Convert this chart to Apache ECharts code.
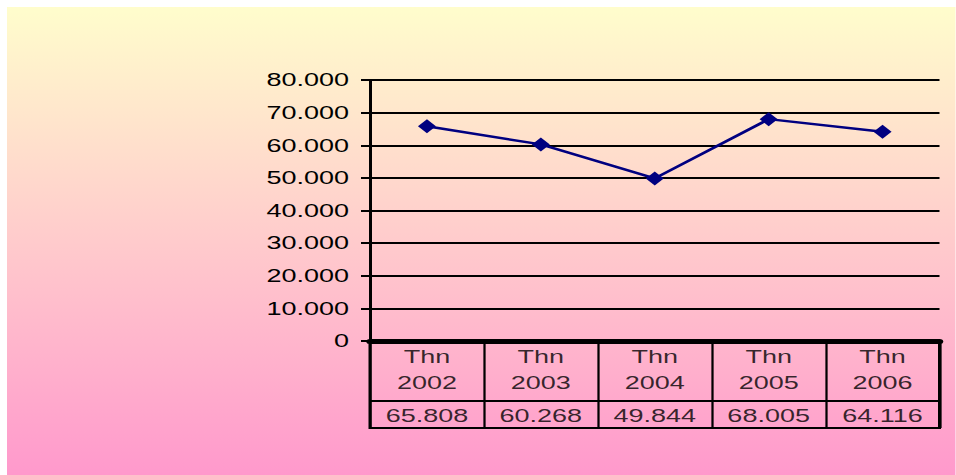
<!DOCTYPE html>
<html>
<head>
<meta charset="utf-8">
<script src="https://cdn.jsdelivr.net/npm/echarts@6/dist/echarts.min.js"></script>
<style>
  html, body { margin: 0; padding: 0; background: #ffffff; overflow: hidden; }
  #wrap { width: 956px; height: 475px; position: relative; overflow: hidden; }
  #main { width: 637.33px; height: 475px; transform: scaleX(1.5); transform-origin: 0 0; }
</style>
</head>
<body>
<div id="wrap"><div id="main"></div></div>
<script>
const categories = ['Thn\n2002', 'Thn\n2003', 'Thn\n2004', 'Thn\n2005', 'Thn\n2006'];
const values = [65808, 60268, 49844, 68005, 64116];
const yTickLabels = ['0', '10.000', '20.000', '30.000', '40.000', '50.000', '60.000', '70.000', '80.000'];

const S = 1.5; // horizontal stretch of the original picture
const W = 956 / S;
const FONT = '"Liberation Sans", Arial, sans-serif';

function fmt(v) { return (v / 1000).toFixed(3); }

const chart = echarts.init(document.getElementById('main'), null, { renderer: 'svg' });
chart.setOption({
  animation: false,
  graphic: [{
    type: 'rect', z: -100, silent: true,
    left: 7 / S, top: 7,
    shape: { x: 0, y: 0, width: W - 7 / S, height: 468 },
    style: {
      fill: new echarts.graphic.LinearGradient(0, 0, 0, 1, [
        { offset: 0, color: '#FFFDCC' },
        { offset: 1, color: '#FF99CC' }
      ])
    }
  }],
  grid: [
    { left: 370 / S, right: 16 / S, top: 80, height: 261 },
    { left: 370 / S, right: 16 / S, top: 341, height: 87, show: true, borderColor: '#000', borderWidth: 2, backgroundColor: 'transparent' }
  ],
  xAxis: [
    {
      gridIndex: 0, type: 'category', data: categories, boundaryGap: true,
      axisLine: { show: true, lineStyle: { color: '#000', width: 5, cap: 'round' } },
      axisTick: { show: false }, axisLabel: { show: false }, splitLine: { show: false }
    },
    {
      gridIndex: 1, type: 'category', data: categories, boundaryGap: true,
      axisLine: { show: false }, axisTick: { show: false }, axisLabel: { show: false },
      splitLine: { show: true, interval: 0, lineStyle: { color: '#000', width: 1.5 } }
    }
  ],
  yAxis: [
    {
      gridIndex: 0, type: 'value', min: 0, max: 80000, interval: 10000,
      axisLine: { show: true, lineStyle: { color: '#000', width: 2 } },
      axisTick: { show: true, length: 6, lineStyle: { color: '#000', width: 2 } },
      splitLine: { show: true, lineStyle: { color: '#000', width: 2 } },
      axisLabel: {
        margin: 14, color: '#000', fontSize: 18, fontFamily: FONT,
        formatter: v => yTickLabels[Math.round(v / 10000)]
      }
    },
    { gridIndex: 1, type: 'value', min: 0, max: 87, show: false }
  ],
  series: [
    {
      type: 'line', xAxisIndex: 0, yAxisIndex: 0, data: values,
      color: '#000080',
      lineStyle: { color: '#000080', width: 2.5 },
      symbol: 'diamond', symbolSize: [12, 14],
      itemStyle: { color: '#000080' }
    },
    {
      type: 'scatter', xAxisIndex: 1, yAxisIndex: 1,
      data: categories.map(c => [c, 58]),
      symbolSize: 1, itemStyle: { color: 'rgba(0,0,0,0)' },
      label: {
        show: true, position: 'inside', color: '#000', fontSize: 18, fontFamily: FONT,
        lineHeight: 26, align: 'center',
        formatter: p => categories[p.dataIndex]
      }
    },
    {
      type: 'scatter', xAxisIndex: 1, yAxisIndex: 1,
      data: categories.map(c => [c, 12.5]),
      symbolSize: 1, itemStyle: { color: 'rgba(0,0,0,0)' },
      label: {
        show: true, position: 'inside', color: '#000', fontSize: 18, fontFamily: FONT,
        formatter: p => fmt(values[p.dataIndex])
      },
      markLine: {
        silent: true, symbol: 'none', label: { show: false },
        lineStyle: { color: '#000', width: 2, type: 'solid' },
        data: [{ yAxis: 27 }]
      }
    }
  ]
});
</script>
</body>
</html>
